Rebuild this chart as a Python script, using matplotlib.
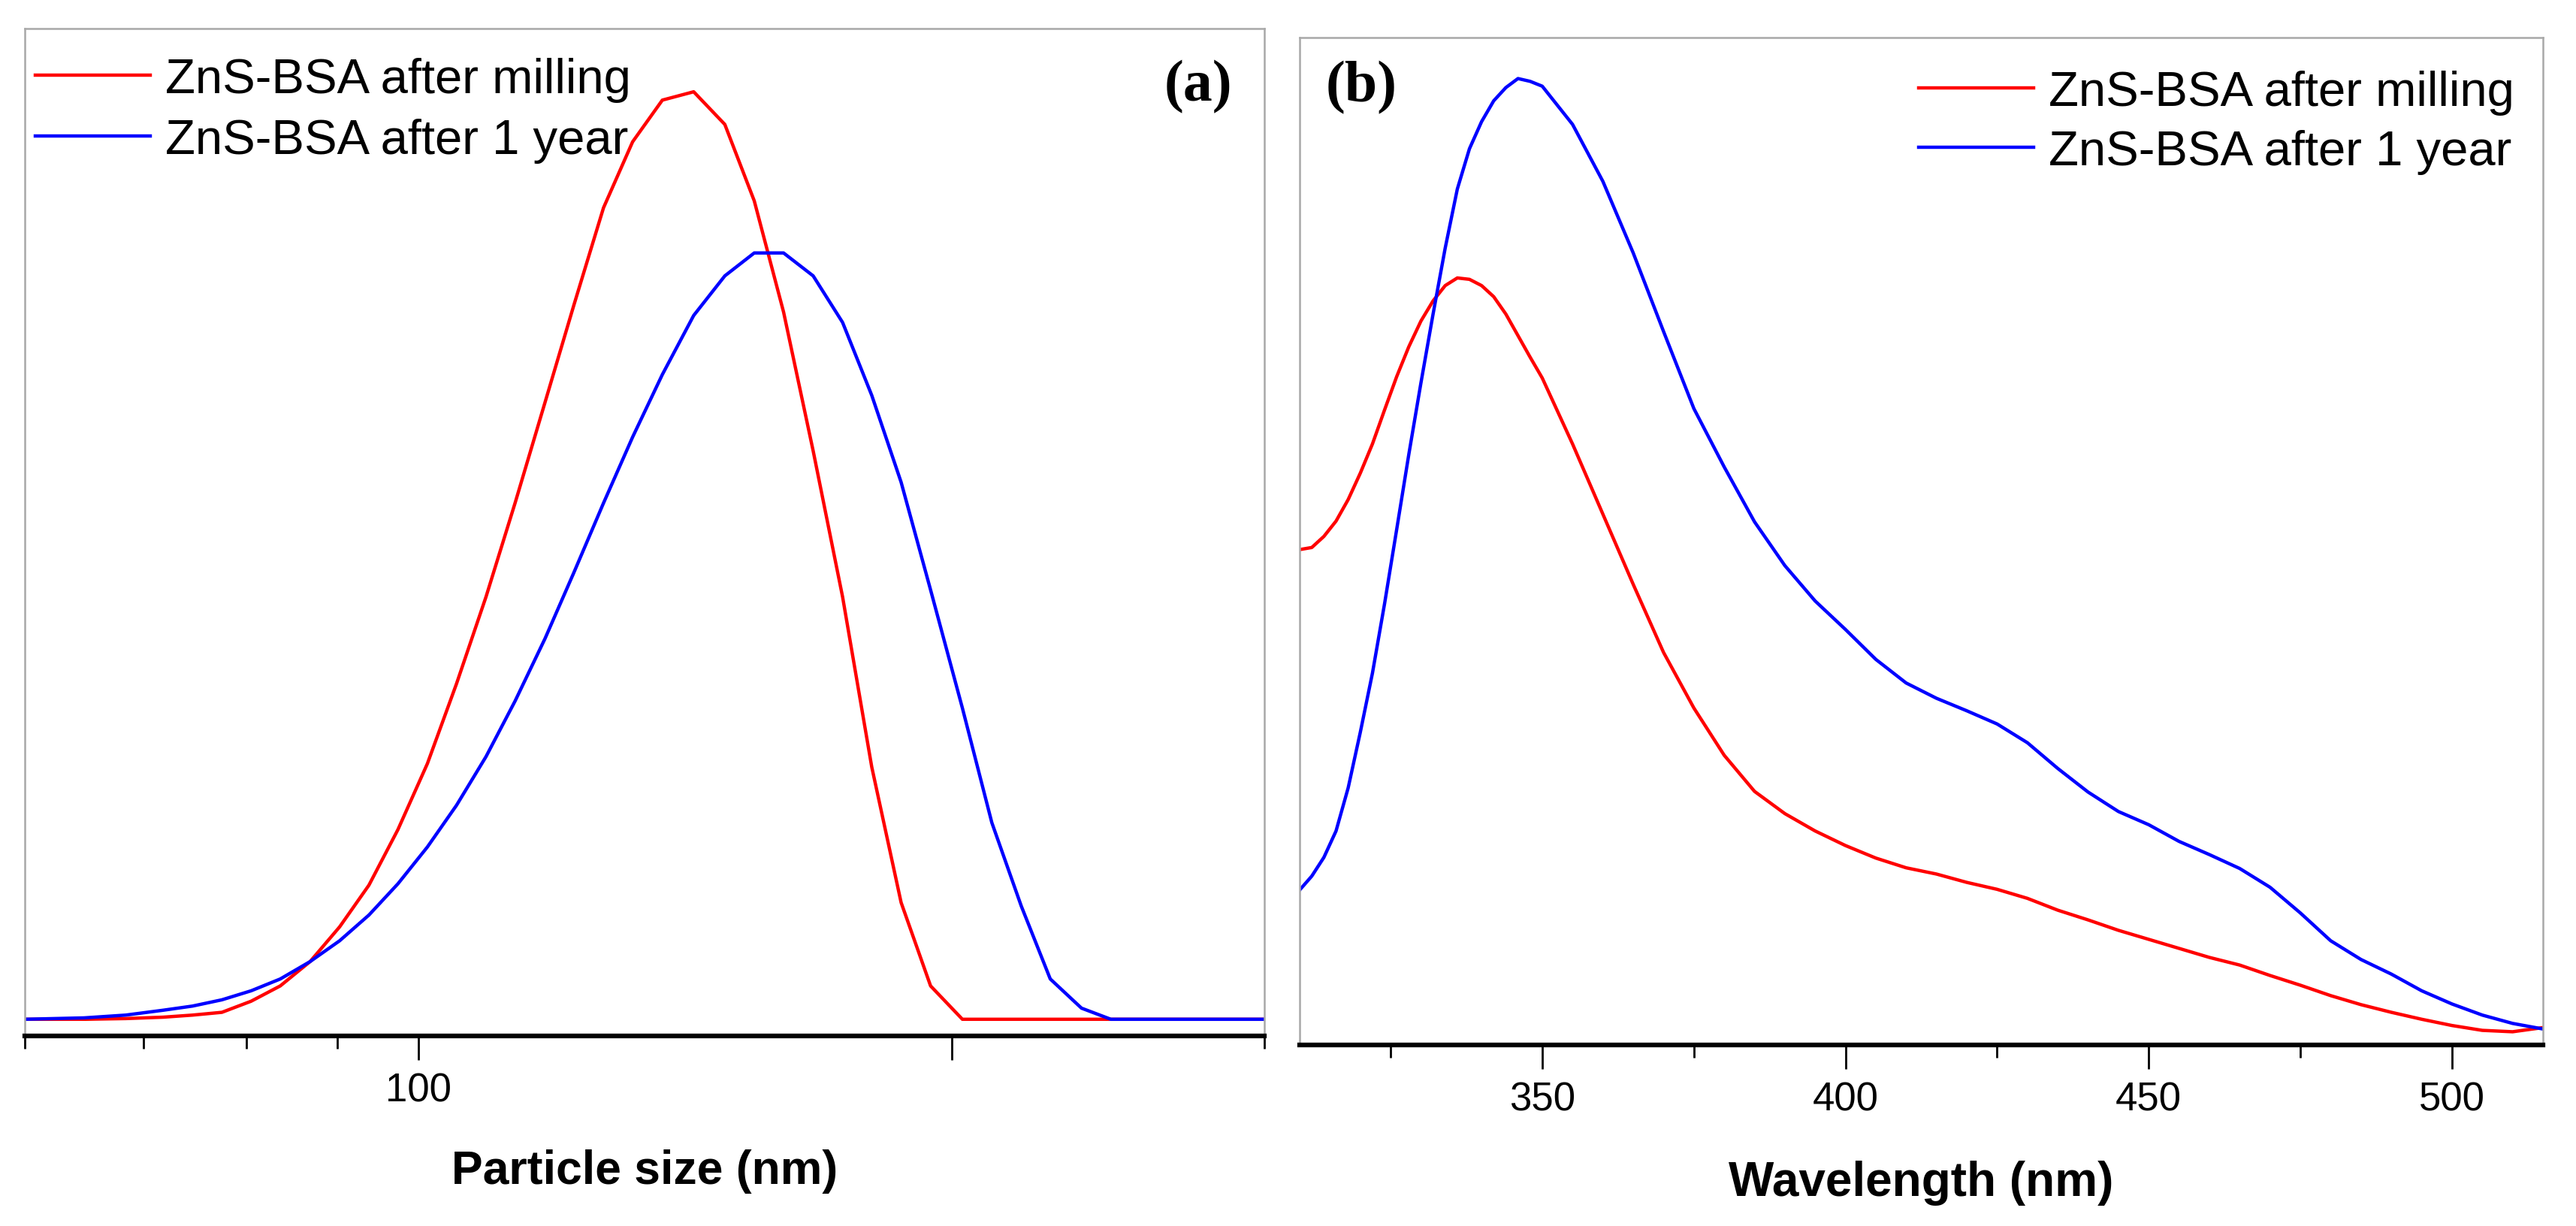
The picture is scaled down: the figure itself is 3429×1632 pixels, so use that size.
import matplotlib
matplotlib.use("Agg")
import matplotlib.pyplot as plt
from matplotlib.ticker import FixedLocator, NullFormatter, FixedFormatter

plt.rcParams['font.family'] = ['Liberation Sans', 'DejaVu Sans']

# ---- panel (a): particle size distribution (log x) ----
size_nm = [60, 64.8, 68.4, 71.8, 74.6, 77.5, 80.5, 83.6, 86.9, 90.3, 93.8, 97.4,
           101.2, 105.1, 109.2, 113.4, 117.9, 122.4, 127.2, 132.1, 137.3, 143.0,
           148.9, 154.7, 160.7, 167.0, 173.5, 180.2, 187.2, 194.5, 202.7, 210.6,
           218.8, 227.2, 236.6, 245.8, 300]
milled_a = [0, 0, 1, 3, 6, 10, 26, 48, 83, 133, 193, 273, 368, 483, 608, 743, 888,
            1028, 1168, 1263, 1323, 1335, 1288, 1178, 1018, 818, 608, 363, 168, 48,
            0, 0, 0, 0, 0, 0, 0]
aged_a = [0, 2, 6, 13, 19, 28, 41, 58, 83, 113, 150, 195, 248, 308, 378, 458, 548,
          643, 743, 838, 928, 1013, 1070, 1103, 1103, 1070, 1003, 898, 773, 618,
          448, 283, 163, 58, 16, 0, 0]

# ---- panel (b): emission spectra ----
wl_nm = [310, 312, 314, 316, 318, 320, 322, 324, 326, 328, 330, 332, 334, 336, 338,
         340, 342, 344, 346, 348, 350, 355, 360, 365, 370, 375, 380, 385, 390, 395,
         400, 405, 410, 415, 420, 425, 430, 435, 440, 445, 450, 455, 460, 465, 470,
         475, 480, 485, 490, 495, 500, 505, 510, 515]
milled_b = [713, 716, 732, 754, 785, 823, 865, 914, 962, 1005, 1042, 1071, 1093, 1104,
            1102, 1093, 1077, 1052, 1021, 990, 960, 865, 764, 663, 565, 485, 417, 365,
            333, 308, 287, 269, 255, 246, 234, 224, 211, 194, 180, 165, 152, 139, 126,
            115, 100, 86, 71, 58, 47, 37, 28, 21, 19, 25]
aged_b = [223, 243, 270, 308, 370, 450, 535, 635, 742, 850, 953, 1052, 1147, 1232,
          1290, 1329, 1359, 1378, 1391, 1387, 1380, 1325, 1243, 1140, 1027, 916, 832,
          753, 690, 639, 598, 555, 521, 499, 481, 462, 435, 398, 364, 336, 317, 293,
          274, 254, 227, 190, 150, 123, 102, 78, 59, 43, 31, 23]

labels = ["ZnS-BSA after milling", "ZnS-BSA after 1 year"]
RED, BLUE = "#ff0000", "#0000ff"
SERIF = ["Liberation Serif", "DejaVu Serif"]

fig = plt.figure(figsize=(34.30, 16.33), dpi=100)
ax1 = fig.add_axes([33/3430, 1 - 1380/1633, 1650/3430, 1341/1633])
ax2 = fig.add_axes([1730/3430, 1 - 1392/1633, 1655/3430, 1341/1633])


def style_axes(ax):
    for s in ("left", "top", "right"):
        ax.spines[s].set_color("#a8a8a8")
        ax.spines[s].set_linewidth(1.8)
    ax.spines["bottom"].set_color("black")
    ax.spines["bottom"].set_linewidth(4.5)
    ax.set_yticks([])
    ax.tick_params(axis="x", which="major", direction="out", length=23, width=2,
                   pad=11, labelsize=38, color="black")
    ax.tick_params(axis="x", which="minor", direction="out", length=12, width=2,
                   color="black")


ax1.plot(size_nm, milled_a, color=RED, lw=3.2, label=labels[0])
ax1.plot(size_nm, aged_a, color=BLUE, lw=3.2, label=labels[1])
ax1.set_xscale("log")
ax1.set_xlim(60, 300)
ax1.set_ylim(-24, 1426)
style_axes(ax1)
ax1.xaxis.set_major_locator(FixedLocator([100, 200]))
ax1.xaxis.set_major_formatter(FixedFormatter(["100", ""]))
ax1.xaxis.set_minor_locator(FixedLocator([60, 70, 80, 90, 300]))
ax1.xaxis.set_minor_formatter(NullFormatter())
ax1.set_xlabel("Particle size (nm)", fontsize=45, fontweight="bold", labelpad=38)
ax1.legend(loc="upper left", bbox_to_anchor=(0.0085, 0.972), frameon=False,
           fontsize=47, handlelength=2.35, handletextpad=0.3, labelspacing=0.33,
           borderaxespad=0, borderpad=0)
ax1.text(0.974, 0.943, "(a)", transform=ax1.transAxes, ha="right", va="center",
         fontsize=56, fontweight="bold", family=SERIF)

ax2.plot(wl_nm, milled_b, color=RED, lw=3.2, label=labels[0])
ax2.plot(wl_nm, aged_b, color=BLUE, lw=3.2, label=labels[1])
ax2.set_xlim(310, 515)
ax2.set_ylim(0, 1450)
style_axes(ax2)
ax2.xaxis.set_major_locator(FixedLocator([350, 400, 450, 500]))
ax2.xaxis.set_minor_locator(FixedLocator([325, 375, 425, 475]))
ax2.set_xlabel("Wavelength (nm)", fontsize=46, fontweight="bold", labelpad=40)
ax2.legend(loc="upper right", bbox_to_anchor=(0.977, 0.968), frameon=False,
           fontsize=47, handlelength=2.35, handletextpad=0.3, labelspacing=0.29,
           borderaxespad=0, borderpad=0)
ax2.text(0.021, 0.951, "(b)", transform=ax2.transAxes, ha="left", va="center",
         fontsize=56, fontweight="bold", family=SERIF)

fig.savefig("out.png", dpi=100)
